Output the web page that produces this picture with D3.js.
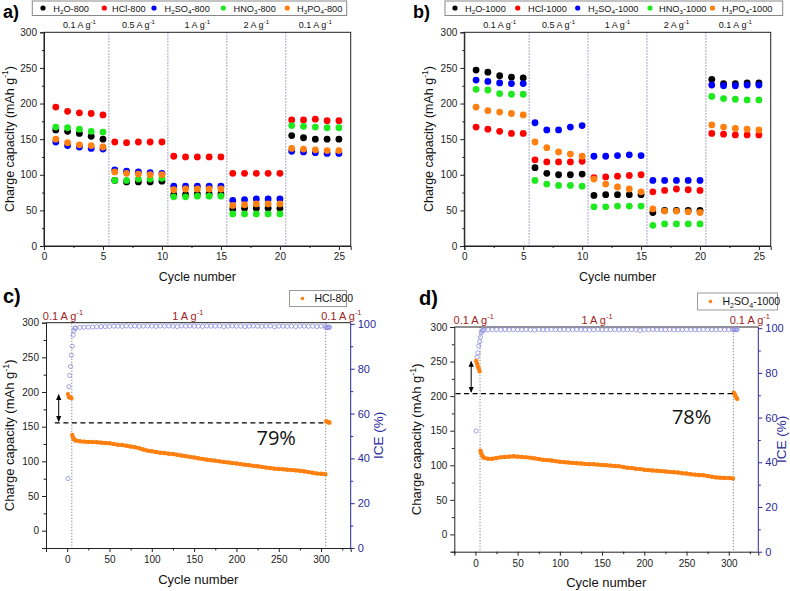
<!DOCTYPE html>
<html><head><meta charset="utf-8">
<script src="https://cdn.jsdelivr.net/npm/d3@7/dist/d3.min.js"></script>
<style>body{margin:0;background:#fff}</style>
</head><body>
<svg id="chart" width="790" height="591"></svg>
<script>
// ---------------- DATA ----------------
const rateCycles = [1,2,3,4,5,6,7,8,9,10,11,12,13,14,15,16,17,18,19,20,21,22,23,24,25];
const rateBounds = [5.5,10.5,15.5,20.5];
const rateLabelPos = [3,8,13,18,23];
const rateLabels = ["0.1 A g<sup>-1</sup>","0.5 A g<sup>-1</sup>","1 A g<sup>-1</sup>","2 A g<sup>-1</sup>","0.1 A g<sup>-1</sup>"];
const seriesColors = ["#000000","#ff0000","#0000ff","#1ee81e","#ff8010"];

const namesA = ["H<sub>2</sub>O-800","HCl-800","H<sub>2</sub>SO<sub>4</sub>-800","HNO<sub>3</sub>-800","H<sub>3</sub>PO<sub>4</sub>-800"];
const a_H2O   = [163,161,158,154,150, 92,90,90,90,91, 72,72,73,73,73, 52,53,53,53,53, 155,152,150,150,150];
const a_HCl   = [195,189,187,186,184, 146,145,146,146,146, 126,125,125,125,125, 102,102,102,102,102, 177,177,178,176,176];
const a_H2SO4 = [146,141,139,137,136, 107,105,104,103,102, 84,84,84,84,84, 64,65,66,66,66, 133,132,131,130,130];
const a_HNO3  = [167,166,164,161,160, 92,92,94,94,95, 69,69,70,70,70, 45,45,45,45,45, 169,168,167,166,166];
const a_H3PO4 = [150,145,142,141,139, 104,102,101,100,100, 79,80,80,80,80, 57,58,59,59,59, 137,136,135,134,134];

const namesB = ["H<sub>2</sub>O-1000","HCl-1000","H<sub>2</sub>SO<sub>4</sub>-1000","HNO<sub>3</sub>-1000","H<sub>3</sub>PO<sub>4</sub>-1000"];
const b_H2O   = [247,244,239,237,236, 110,102,100,100,101, 71,72,72,72,72, 47,50,50,50,50, 234,228,228,229,229];
const b_HCl   = [167,164,161,158,158, 121,118,118,118,119, 96,97,98,99,100, 76,78,80,79,78, 158,157,156,156,156];
const b_H2SO4 = [233,231,229,228,228, 173,163,163,167,169, 126,126,127,128,127, 92,92,92,92,92, 226,225,225,226,226];
const b_HNO3  = [220,219,214,213,213, 92,87,85,85,84, 55,55,56,56,56, 29,31,31,31,31, 210,207,206,205,205];
const b_H3PO4 = [195,190,188,186,184, 146,138,132,129,126, 94,87,83,80,76, 52,49,49,48,47, 170,167,165,164,163];

// long cycling (c, d)
const earlyCycles = [1,2,3,4,5];
const iceEarlyCycles = [1,2,3,4,5,6,7,8,9];
const midCycles = [6,7,8,9].concat(d3.range(10,306,5));
const plateauCycles = d3.range(10,306,5);
const endCycles = [306,307,308,309,310];

const capC_early = [197,193,192,192,191];
const capC_mid = [138,134,132,131, 130,129,128.5,128,128,127.5,127,126.5,126,125,124,123.5,122.5,121.5,120.5,119,117,115.5,114.5,113.5,112.5,112,111,110.5,109.5,108.5,107.5,106.5,105.5,104.5,103.5,102.5,101.5,101,100,99,98.5,97.5,97,96,95,94.5,93.5,93,92,91,90.5,89.5,89,88.5,88,87.5,87,86.5,85.5,84.5,83.5,82.5,82,81.5];
const capC_end = [158,157,157,156,156];
const iceC_early = [31,72,77,81,86,90,95,97,98];
const iceC_plateau = [98.2,98.4,98.5,98.6,98.6,98.7,98.8,98.8,98.9,99.0, 99.0,98.9,99.1,99.0,99.1,98.9,99.0,99.1,99.0,98.9, 99.1,99.0,99.1,99.0,98.8,99.1,99.0,99.1,99.0,99.0, 98.9,99.1,99.0,99.0,99.1,98.8,99.0,99.1,99.0,99.0, 98.8,99.0,99.1,99.0,98.9,99.0,99.1,98.7,99.0,99.0, 98.9,99.0,98.8,99.0,99.0,98.9,99.0,98.8,99.0,99.0];
const iceC_end = [98.3,98.4,98.4,98.5,98.5];

const capD_early = [251,247,243,240,236];
const capD_mid = [121,117,114,112, 111,109.5,109.5,110.5,111.5,112,112.5,113,112.5,112,111.5,111,110,109,108,107.5,107,106,105,104.5,104,103.5,103,102.5,102,101.5,101.5,101,100.5,100,99.5,99,98.5,97.5,96.5,96,95,94.5,93.5,93,92.5,92,91.5,91,90.5,90,89.5,88.5,88,87,86.5,86,85.5,84.5,83.5,82.5,82,81.5,81.5,81];
const capD_end = [205,203,200,198,196];
const iceD_early = [54,87,89,92,94,96,98,98.8,99.1];
const iceD_plateau = [99.2,99.3,99.3,99.4,99.3,99.4,99.3,99.4,99.3,99.3, 99.4,99.3,99.2,99.4,99.3,99.3,99.4,99.3,99.3,99.4, 99.3,99.3,99.4,99.3,99.3,99.2,99.3,99.4,99.3,99.3, 99.3,99.4,99.3,99.3,99.3,99.4,99.3,99.0,99.3,99.3, 99.4,99.3,99.3,99.3,99.4,99.3,99.3,99.3,99.4,99.3, 99.3,99.3,99.4,99.3,99.3,99.3,99.4,99.3,99.3,99.3];
const iceD_end = [99.4,99.4,99.4,99.4,99.4];

const longBounds = [5.5,305.5];
const longRateLabels = ["0.1 A g<sup>-1</sup>","1 A g<sup>-1</sup>","0.1 A g<sup>-1</sup>"];

// ---------------- DRAW ----------------
const FONT = '"Liberation Sans", Arial, Helvetica, sans-serif';
const svg = d3.select("#chart");
const defs = svg.append("defs");
defs.append("marker").attr("id","ah").attr("viewBox","0 0 8 8").attr("refX",7).attr("refY",4)
  .attr("markerWidth",6).attr("markerHeight",6).attr("orient","auto-start-reverse")
  .append("path").attr("d","M0,0.5 L8,4 L0,7.5 z").attr("fill","#000");

function rich(t, str, fs){
  const re = /<(sub|sup)>(.*?)<\/(?:sub|sup)>/g;
  let last = 0, cur = 0, m;
  const add = (s, off, size) => { if(!s) return; t.append("tspan").attr("dy", off - cur).attr("font-size", size).text(s); cur = off; };
  while((m = re.exec(str))){
    add(str.slice(last, m.index), 0, fs);
    add(m[2], m[1] === "sub" ? fs*0.28 : -fs*0.42, fs*0.68);
    last = re.lastIndex;
  }
  add(str.slice(last), 0, fs);
  return t;
}
function label(g, x, y, str, fs, opts={}){
  const t = g.append("text").attr("x",x).attr("y",y).attr("font-family",FONT).attr("font-size",fs)
    .attr("fill",opts.fill||"#111").attr("text-anchor",opts.anchor||"start");
  if(opts.weight) t.attr("font-weight",opts.weight);
  if(opts.rotate) t.attr("transform",`rotate(-90,${x},${y})`);
  return rich(t, str, fs);
}
function styleAxis(sel, color, fs){
  sel.selectAll("path,line").attr("stroke",color).attr("stroke-width",1);
  sel.selectAll("text").attr("fill",color).attr("font-size",fs).attr("font-family",FONT);
}

function ratePanel(cfg){
  const g = svg.append("g");
  const x = d3.scaleLinear().domain([0,26]).range([cfg.x0,cfg.x1]);
  const y = d3.scaleLinear().domain([0,300]).range([246,32.3]);
  g.selectAll(null).data(rateBounds).join("line")
    .attr("x1",d=>x(d)).attr("x2",d=>x(d)).attr("y1",y(300)).attr("y2",y(0))
    .attr("stroke","#7a7aa6").attr("stroke-width",1).attr("stroke-dasharray","1.3,1.7");
  const xa = g.append("g").attr("transform",`translate(0,${y(0)})`)
    .call(d3.axisBottom(x).tickValues([0,5,10,15,20,25]).tickSize(4).tickPadding(3).tickFormat(d3.format("d")));
  styleAxis(xa,"#222",10);
  const xm = g.append("g").attr("transform",`translate(0,${y(0)})`)
    .call(d3.axisBottom(x).tickValues(d3.range(2.5,26,5)).tickSize(2).tickFormat(""));
  xm.select(".domain").remove(); styleAxis(xm,"#222",10);
  const ya = g.append("g").attr("transform",`translate(${x(0)},0)`)
    .call(d3.axisLeft(y).tickValues([0,50,100,150,200,250,300]).tickSize(4).tickPadding(3));
  styleAxis(ya,"#222",10);
  const ym = g.append("g").attr("transform",`translate(${x(0)},0)`)
    .call(d3.axisLeft(y).tickValues([25,75,125,175,225,275]).tickSize(2).tickFormat(""));
  ym.select(".domain").remove(); styleAxis(ym,"#222",10);
  g.append("rect").attr("x",x(0)).attr("y",y(300)).attr("width",x(26)-x(0)).attr("height",y(0)-y(300))
    .attr("fill","none").attr("stroke","#222");
  rateLabels.forEach((s,i)=>label(g, x(rateLabelPos[i]), 28, s, 9, {anchor:"middle"}));
  cfg.series.forEach((vals,i)=>{
    g.append("g").selectAll("circle").data(vals).join("circle")
      .attr("cx",(d,j)=>x(rateCycles[j])).attr("cy",d=>y(d)).attr("r",3.4).attr("fill",seriesColors[i]);
  });
  // legend
  g.append("rect").attr("x",cfg.lx0).attr("y",1).attr("width",cfg.lx1-cfg.lx0).attr("height",14.5)
    .attr("fill","#fff").attr("stroke","#888");
  cfg.names.forEach((n,i)=>{
    g.append("circle").attr("cx",cfg.ldots[i]).attr("cy",8).attr("r",2.6).attr("fill",seriesColors[i]);
    label(g, cfg.ltext[i], 11.5, n, 9.2);
  });
  label(g, (cfg.x0+cfg.x1)/2, 280.5, "Cycle number", 12.5, {anchor:"middle"});
  label(g, cfg.ytx, 139, "Charge capacity (mAh g<sup>-1</sup>)", 12.5, {anchor:"middle", rotate:true});
  label(g, cfg.tx, 17.5, cfg.tag, 18, {weight:"bold", fill:"#000"});
}

ratePanel({x0:44, x1:350.7, series:[a_H2O,a_HCl,a_H2SO4,a_HNO3,a_H3PO4], names:namesA,
  lx0:32.3, lx1:346.7, ldots:[43,104.3,154,223.3,287.3], ltext:[53.3,112,164.5,233.5,297],
  ytx:13.5, tx:3, tag:"a)"});
ratePanel({x0:464.3, x1:770.7, series:[b_H2O,b_HCl,b_H2SO4,b_HNO3,b_H3PO4], names:namesB,
  lx0:445, lx1:782.7, ldots:[455,517.7,577.7,650,712.5], ltext:[465,528,588,659,722],
  ytx:433, tx:413, tag:"b)"});

function longPanel(cfg){
  const g = svg.append("g");
  const x = d3.scaleLinear().domain([-25,335]).range([cfg.x0,cfg.x1]);
  const y = d3.scaleLinear().domain([-25,300]).range([cfg.yb,cfg.yt]);
  const yi = d3.scaleLinear().domain([0,100]).range([cfg.yb,cfg.yt+1.2]);
  const blue = "#2a2a9a";
  g.selectAll(null).data(longBounds).join("line")
    .attr("x1",d=>x(d)).attr("x2",d=>x(d)).attr("y1",cfg.yt).attr("y2",cfg.yb)
    .attr("stroke","#8a8a8a").attr("stroke-width",1).attr("stroke-dasharray","1.3,1.7");
  const xa = g.append("g").attr("transform",`translate(0,${cfg.yb})`)
    .call(d3.axisBottom(x).tickValues([0,50,100,150,200,250,300]).tickSize(4).tickPadding(4));
  styleAxis(xa,"#222",10);
  const xm = g.append("g").attr("transform",`translate(0,${cfg.yb})`)
    .call(d3.axisBottom(x).tickValues([-25,25,75,125,175,225,275,325]).tickSize(2.5).tickFormat(""));
  xm.select(".domain").remove(); styleAxis(xm,"#222",10);
  const ya = g.append("g").attr("transform",`translate(${cfg.x0},0)`)
    .call(d3.axisLeft(y).tickValues([0,50,100,150,200,250,300]).tickSize(4).tickPadding(3));
  styleAxis(ya,"#222",10);
  const ym = g.append("g").attr("transform",`translate(${cfg.x0},0)`)
    .call(d3.axisLeft(y).tickValues([-25,25,75,125,175,225,275]).tickSize(2.5).tickFormat(""));
  ym.select(".domain").remove(); styleAxis(ym,"#222",10);
  g.append("line").attr("x1",cfg.x0).attr("x2",cfg.x1).attr("y1",cfg.yt).attr("y2",cfg.yt).attr("stroke","#222");
  const yr = g.append("g").attr("transform",`translate(${cfg.x1},0)`)
    .call(d3.axisRight(yi).tickValues([0,20,40,60,80,100]).tickSize(4).tickPadding(3));
  yr.select(".domain").attr("d",`M0,${cfg.yb}V${cfg.yt}`);
  styleAxis(yr,blue,11);
  const yrm = g.append("g").attr("transform",`translate(${cfg.x1},0)`)
    .call(d3.axisRight(yi).tickValues([10,30,50,70,90]).tickSize(2.5).tickFormat(""));
  yrm.select(".domain").remove(); styleAxis(yrm,blue,11);

  // ICE open circles
  const iceCol = "#8d8de2";
  const ice = [].concat(cfg.iceEarly.map((v,i)=>[iceEarlyCycles[i],v]),
                        cfg.icePlateau.map((v,i)=>[plateauCycles[i],v]),
                        cfg.iceEnd.map((v,i)=>[endCycles[i],v]));
  g.append("g").selectAll("circle").data(ice).join("circle")
    .attr("cx",d=>x(d[0])).attr("cy",d=>yi(d[1])).attr("r",2.1)
    .attr("fill","none").attr("stroke",iceCol).attr("stroke-width",0.8);

  // capacity
  const orange = "#ff8010";
  const mid = cfg.capMid.map((v,i)=>[midCycles[i],v]);
  g.append("path").datum(mid).attr("d",d3.line().x(d=>x(d[0])).y(d=>y(d[1])))
    .attr("fill","none").attr("stroke",orange).attr("stroke-width",3.6).attr("stroke-linejoin","round");
  const cap = [].concat(cfg.capEarly.map((v,i)=>[earlyCycles[i],v]), mid, cfg.capEnd.map((v,i)=>[endCycles[i],v]));
  g.append("g").selectAll("circle").data(cap).join("circle")
    .attr("cx",d=>x(d[0])).attr("cy",d=>y(d[1])).attr("r",2.2).attr("fill",orange);

  // dashed level + arrow
  g.append("line").attr("x1",x(cfg.dash[0])).attr("x2",x(cfg.dash[1])).attr("y1",y(cfg.level)).attr("y2",y(cfg.level))
    .attr("stroke","#000").attr("stroke-width",1.3).attr("stroke-dasharray","5,3.5");
  g.append("line").attr("x1",x(cfg.arrowX)).attr("x2",x(cfg.arrowX)).attr("y1",y(cfg.arrow[0])).attr("y2",y(cfg.arrow[1]))
    .attr("stroke","#000").attr("stroke-width",1).attr("marker-start","url(#ah)").attr("marker-end","url(#ah)");
  g.append("text").attr("x",x(cfg.pctX)).attr("y",y(cfg.pctY)).attr("text-anchor","middle")
    .attr("font-family",'"Open Sans", "Noto Sans", sans-serif').attr("font-size",20).attr("fill","#111").text(cfg.pct);

  // rate labels
  cfg.rateX.forEach((cx,i)=>label(g, x(cx), cfg.yt-3, longRateLabels[i], 11, {anchor:"middle", fill:"#a02323"}));
  // legend
  g.append("rect").attr("x",cfg.lg[0]).attr("y",cfg.lg[1]).attr("width",cfg.lg[2]).attr("height",cfg.lg[3])
    .attr("fill","#fff").attr("stroke","#999");
  g.append("circle").attr("cx",cfg.lg[0]+13).attr("cy",cfg.lg[1]+cfg.lg[3]/2).attr("r",1.8).attr("fill",orange);
  label(g, cfg.lg[0]+25, cfg.lg[1]+cfg.lg[3]/2+3.8, cfg.name, 10.5);
  // titles
  label(g, (cfg.x0+cfg.x1)/2, cfg.yb+35.5, "Cycle number", 13, {anchor:"middle"});
  label(g, cfg.ytx, (cfg.yt+cfg.yb)/2, "Charge capacity (mAh g<sup>-1</sup>)", 13, {anchor:"middle", rotate:true});
  label(g, cfg.x1+cfg.iceDx, (cfg.yt+cfg.yb)/2, "ICE (%)", 13.5, {anchor:"middle", rotate:true, fill:blue});
  label(g, cfg.tx, cfg.ty, cfg.tag, 20, {weight:"bold", fill:"#000"});
}

longPanel({x0:46, x1:350.7, yt:322.7, yb:548, capEarly:capC_early, capMid:capC_mid, capEnd:capC_end,
  iceEarly:iceC_early, icePlateau:iceC_plateau, iceEnd:iceC_end,
  level:155.5, dash:[-14.5,304], arrowX:-10, arrow:[196,158], pct:"79%", pctX:247, pctY:123,
  rateX:[-5,142.5,324], lg:[289.5,290.5,57,16], name:"HCl-800", ytx:14.5, tx:3, ty:303, tag:"c)", iceDx:32});
longPanel({x0:454.3, x1:758.3, yt:327, yb:551.7, capEarly:capD_early, capMid:capD_mid, capEnd:capD_end,
  iceEarly:iceD_early, icePlateau:iceD_plateau, iceEnd:iceD_end,
  level:203.5, dash:[-23.5,305.5], arrowX:-5, arrow:[250,206], pct:"78%", pctX:256, pctY:160,
  rateX:[-2,144,325], lg:[697.5,293,80,17], name:"H<sub>2</sub>SO<sub>4</sub>-1000", ytx:421.5, tx:419, ty:305, tag:"d)", iceDx:27.5});
</script>
</body></html>
